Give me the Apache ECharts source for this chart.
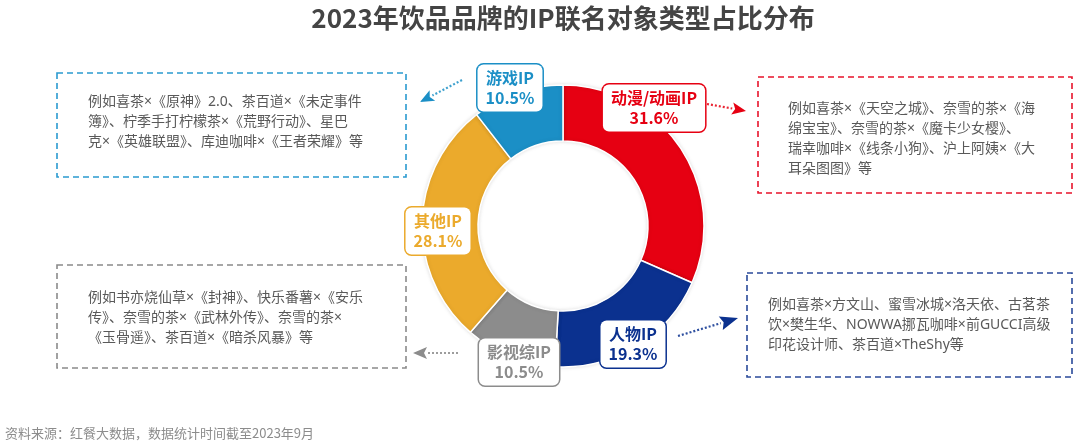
<!DOCTYPE html>
<html><head><meta charset="utf-8">
<script src="https://cdn.jsdelivr.net/npm/echarts@6/dist/echarts.min.js"></script>
<style>html,body{margin:0;padding:0;background:#fff}#c{width:1080px;height:444px}</style>
</head><body><div id="c"></div>
<script>
// ---- data ----
const titleText = '2023年饮品品牌的IP联名对象类型占比分布';
const sourceText = '资料来源：红餐大数据，数据统计时间截至2023年9月';
const categories = ['动漫/动画IP', '人物IP', '影视综IP', '其他IP', '游戏IP'];
const values = [31.6, 19.3, 10.5, 28.1, 10.5];
const noteGame = ['例如喜茶×《原神》2.0、茶百道×《未定事件', '簿》、柠季手打柠檬茶×《荒野行动》、星巴', '克×《英雄联盟》、库迪咖啡×《王者荣耀》等'];
const noteAnime = ['例如喜茶×《天空之城》、奈雪的茶×《海', '绵宝宝》、奈雪的茶×《魔卡少女樱》、', '瑞幸咖啡×《线条小狗》、沪上阿姨×《大', '耳朵图图》等'];
const noteOther = ['例如书亦烧仙草×《封神》、快乐番薯×《安乐', '传》、奈雪的茶×《武林外传》、奈雪的茶×', '《玉骨遥》、茶百道×《暗杀风暴》等'];
const notePerson = ['例如喜茶×方文山、蜜雪冰城×洛天依、古茗茶', '饮×樊生华、NOWWA挪瓦咖啡×前GUCCI高级', '印花设计师、茶百道×TheShy等'];

// ---- style ----
const colors = ['#E60012', '#0B318F', '#8C8C8C', '#EBAA2C', '#1B8FC6'];
const labelPos = [[654, 108], [633, 344], [519, 362], [438, 231], [510, 88]];
const FONT = '"Noto Sans CJK SC", "Noto Sans", sans-serif';
const NFONT = '"Noto Sans", "Noto Sans CJK SC", sans-serif';

const chart = echarts.init(document.getElementById('c'));

function arrow(x1, y1, tx, ty, color, len, hw) {
  const dx = tx - x1, dy = ty - y1, d = Math.hypot(dx, dy);
  const ux = dx / d, uy = dy / d;
  const bx = tx - ux * len, by = ty - uy * len;
  const px = -uy * hw, py = ux * hw;
  return [
    { type: 'line', shape: { x1: x1, y1: y1, x2: bx, y2: by }, style: { stroke: color, lineWidth: 2.2, lineDash: [2, 2], opacity: 0.85 }, z: 10 },
    { type: 'polygon', shape: { points: [[tx, ty], [bx + px, by + py], [bx + ux * 3, by + uy * 3], [bx - px, by - py]] }, style: { fill: color }, z: 10 }
  ];
}
function box(x, y, w, h, color) {
  return { type: 'rect', shape: { x: x, y: y, width: w, height: h }, style: { fill: 'rgba(255,255,255,0)', stroke: color, lineWidth: 1.6, lineDash: [6, 4] }, z: 5 };
}
function note(x, y, lines) {
  return { type: 'text', x: x, y: y, style: { text: lines.join('\n'), font: '14px ' + NFONT, fill: '#595959', lineHeight: 20, verticalAlign: 'top' }, z: 6 };
}

chart.setOption({
  animation: false,
  series: [{
    type: 'pie',
    center: [563, 226],
    radius: [85, 141],
    startAngle: 90,
    clockwise: true,
    avoidLabelOverlap: false,
    itemStyle: { borderColor: '#fff', borderWidth: 1.5, shadowBlur: 4, shadowColor: 'rgba(0,0,0,0.12)' },
    emphasis: { disabled: true },
    labelLine: { show: false },
    label: {
      show: true,
      position: 'inside',
      formatter: function (p) { return p.name + '\n' + p.value.toFixed(1) + '%'; },
      fontFamily: FONT, fontSize: 16, fontWeight: 'bold', lineHeight: 20,
      backgroundColor: '#fff', borderWidth: 1.5, borderRadius: 6,
      padding: [4, 8, 3, 8]
    },
    labelLayout: function (p) {
      const pt = labelPos[p.dataIndex];
      return { x: pt[0], y: pt[1], align: 'center', verticalAlign: 'middle' };
    },
    data: categories.map(function (c, i) {
      return {
        name: c, value: values[i],
        itemStyle: { color: colors[i] },
        label: { color: colors[i], borderColor: colors[i] }
      };
    })
  }],
  graphic: [].concat(
    [{ type: 'text', x: 563, y: 18, style: { text: titleText, font: 'bold 26px ' + FONT, fill: '#444444', align: 'center', verticalAlign: 'middle' } }],
    [box(57, 73, 349, 104, '#2A9AD0'), note(88, 92, noteGame)],
    [box(758, 77, 314, 116, '#E8132B'), note(788, 99, noteAnime)],
    [box(57, 265, 349, 103, '#8A8A8A'), note(88, 288, noteOther)],
    [box(747, 273, 325, 104, '#2A4A9A'), note(768, 295, notePerson)],
    arrow(462, 80, 420, 102, '#1B8FC6', 14, 6),
    arrow(707, 104, 746, 111, '#E60012', 14, 6),
    arrow(678, 336, 738, 318, '#0B318F', 18, 7),
    arrow(458, 353, 413, 353, '#8C8C8C', 14, 6),
    [{ type: 'text', x: 5, y: 433, style: { text: sourceText, font: '13px ' + FONT, fill: '#8C8C8C', verticalAlign: 'middle' } }]
  )
});
</script></body></html>
